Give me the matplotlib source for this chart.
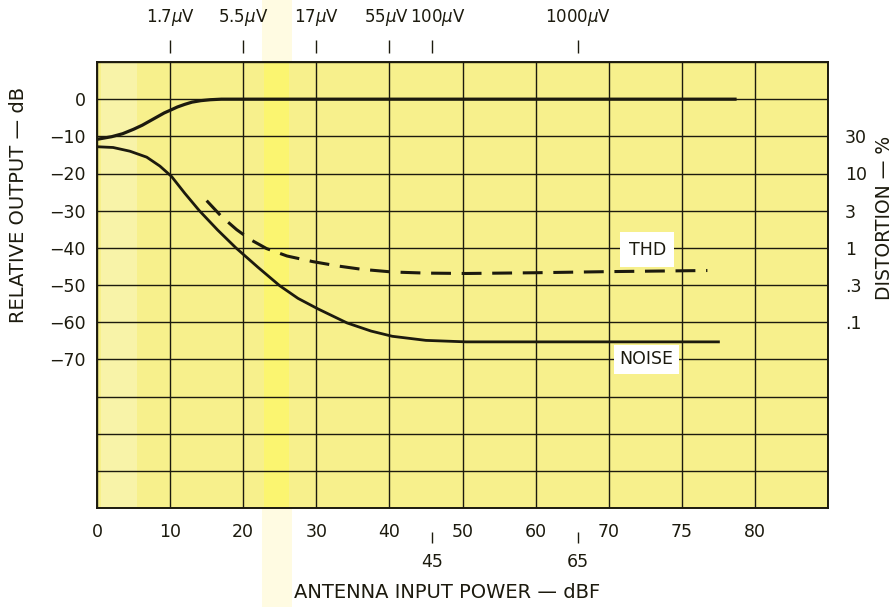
import matplotlib
matplotlib.use("Agg")
import matplotlib.pyplot as plt
from matplotlib.patches import Rectangle

# ── data (x in grid columns: 0..10, y in dB) ────────────────────────────────
bottom_labels = ["0", "10", "20", "30", "40", "50", "60", "70", "75", "80"]
extra_bottom_pos = [4.58, 6.58]
extra_bottom_labels = ["45", "65"]
top_pos = [1.0, 2.0, 3.0, 4.0, 4.58, 6.58]
top_labels = [r"1.7$\mu$V", r"5.5$\mu$V", r"17$\mu$V", r"55$\mu$V", r"100$\mu$V", r"1000$\mu$V"]
left_ticks = [0, -10, -20, -30, -40, -50, -60, -70]
right_ticks = [-10, -20, -30, -40, -50, -60]
right_labels = ["30", "10", "3", "1", ".3", ".1"]

signal_x = [0.0, 0.2, 0.35, 0.5, 0.62, 0.72, 0.82, 0.92, 1.0, 1.1, 1.2, 1.3, 1.42, 1.55,
            1.7, 2.0, 4.0, 6.0, 8.75]
signal_y = [-10.8, -10.1, -9.3, -8.1, -7.0, -5.9, -4.8, -3.7, -3.0, -2.1, -1.4, -0.8,
            -0.4, -0.15, 0.0, 0.0, 0.0, 0.0, 0.0]

noise_x = [0.0, 0.22, 0.45, 0.68, 0.86, 1.02, 1.2, 1.4, 1.65, 1.9, 2.2, 2.5, 2.75, 3.02,
           3.42, 3.75, 4.04, 4.5, 5.05, 8.52]
noise_y = [-12.8, -13.0, -14.0, -15.6, -18.0, -20.8, -25.3, -30.0, -35.2, -40.0, -45.2,
           -50.2, -53.6, -56.4, -60.2, -62.4, -63.8, -64.9, -65.3, -65.3]

thd_x = [1.5, 1.7, 1.91, 2.1, 2.32, 2.6, 2.95, 3.3, 3.63, 4.04, 4.5, 5.05, 6.0, 7.0, 8.35]
thd_y = [-27.3, -31.5, -35.1, -37.8, -40.2, -42.2, -43.7, -44.9, -45.8, -46.5, -46.8,
         -46.9, -46.7, -46.4, -46.1]

INK = "#1c1a0e"
PAPER = "#f7f08c"

plt.rcParams["font.family"] = ["DejaVu Sans"]

fig = plt.figure(figsize=(8.96, 6.07), dpi=100)
fig.patch.set_facecolor("white")
# faint scanner stripe behind the chart
fig.patches.append(Rectangle((262 / 896, 0), 30 / 896, 1, transform=fig.transFigure,
                             facecolor="#fffbe2", edgecolor="none", zorder=-10))

ax = fig.add_axes([97 / 896, 1 - 508 / 607, 731 / 896, 446 / 607])
ax.set_facecolor(PAPER)
ax.axvspan(2.28, 2.62, color="#fbf570", lw=0, zorder=0)
ax.axvspan(0.05, 0.55, color="#f8f3a8", lw=0, zorder=0)

ax.set_xlim(0, 10)
ax.set_ylim(-110, 10)

# grid: majors carry labels, minors fill the rest of the lines
ax.set_xticks(range(len(bottom_labels)), bottom_labels)
ax.set_xticks(range(11), minor=True)
ax.set_yticks(left_ticks, [str(v).replace("-", "\u2212") for v in left_ticks])
ax.set_yticks(range(-110, 11, 10), minor=True)
ax.grid(which="both", color=INK, lw=1.0, zorder=1)
ax.set_axisbelow(True)
ax.tick_params(which="both", length=0)
ax.tick_params(axis="x", pad=11, labelsize=12.5, colors=INK)
ax.tick_params(axis="y", pad=8, labelsize=12.5, colors=INK)
for s in ax.spines.values():
    s.set_color(INK)
    s.set_linewidth(1.4)

# curves
ax.plot(signal_x, signal_y, color=INK, lw=2.3, zorder=3, solid_capstyle="butt")
ax.plot(noise_x, noise_y, color=INK, lw=2.0, zorder=3, solid_capstyle="butt")
ax.plot(thd_x, thd_y, color=INK, lw=2.2, dashes=(6.5, 3.5), zorder=3)

ax.text(7.53, -40.5, "THD", ha="center", va="center", fontsize=12.5, color=INK, zorder=4,
        bbox=dict(facecolor="white", edgecolor="none", pad=6))
ax.text(7.52, -70.0, "NOISE", ha="center", va="center", fontsize=12.5, color=INK, zorder=4,
        bbox=dict(facecolor="white", edgecolor="none", pad=4))

# top microvolt scale: floating tick marks, labels placed above them
top = ax.secondary_xaxis(1 + 9 / 446)
top.set_xticks(top_pos, [""] * len(top_pos))
top.spines["top"].set_visible(False)
top.tick_params(direction="out", length=9.5, width=1.0, colors=INK)
label_shift = [0, 0, 0, -3, 6, 0]   # pixel nudges so the crowded labels don't touch
for pos, text, dx in zip(top_pos, top_labels, label_shift):
    ax.annotate(text, xy=(pos, 1), xycoords=ax.get_xaxis_transform(),
                xytext=(dx, 44), textcoords="offset pixels",
                ha="center", va="center", fontsize=12, color=INK)

# extra bottom ticks 45 / 65
bot = ax.secondary_xaxis(-24 / 446)
bot.set_xticks(extra_bottom_pos, extra_bottom_labels)
bot.spines["bottom"].set_visible(False)
bot.tick_params(direction="out", length=8, width=1.0, colors=INK, pad=7, labelsize=12.5)

# right distortion scale
right = ax.secondary_yaxis("right")
right.set_yticks(right_ticks, right_labels)
right.spines["right"].set_visible(False)
right.tick_params(length=0, pad=12, labelsize=12.5, colors=INK)

fig.text(19 / 896, 1 - 205 / 607, "RELATIVE OUTPUT \u2014 dB", rotation=90,
         ha="center", va="center", fontsize=14, color=INK)
fig.text(884 / 896, 1 - 218 / 607, "DISTORTION \u2014 %", rotation=90,
         ha="center", va="center", fontsize=13.5, color=INK)
fig.text(447 / 896, 1 - 593 / 607, "ANTENNA INPUT POWER \u2014 dBF",
         ha="center", va="center", fontsize=14, color=INK)

fig.savefig("out.png", dpi=100)
